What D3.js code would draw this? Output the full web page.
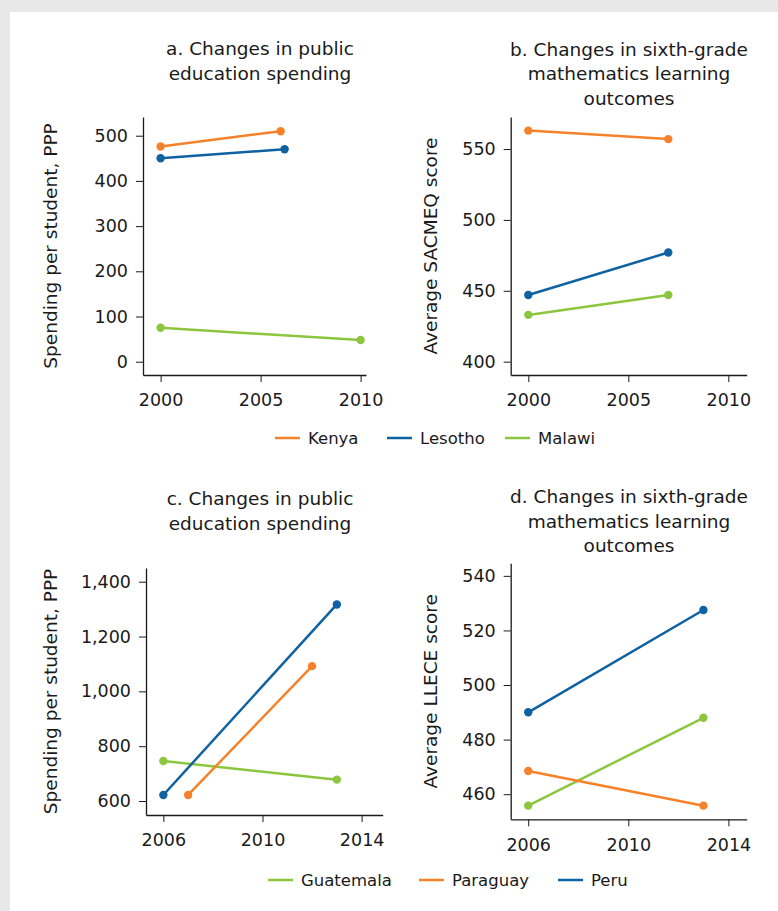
<!DOCTYPE html>
<html><head><meta charset="utf-8">
<script src="https://cdn.jsdelivr.net/npm/d3@7"></script>
<style>
html,body{margin:0;padding:0;background:#e8e8e8;}
svg{display:block;}
text{font-family:"DejaVu Sans",sans-serif;fill:#1a1a1a;}
</style></head>
<body>
<script>
// ---- data ----
const groupA = ["Kenya","Lesotho","Malawi"];
const spendingAfrica = {
  Kenya:   [[2000,476],[2006,510]],
  Lesotho: [[2000,450],[2006.2,470]],
  Malawi:  [[2000,75],[2010,48]]
};
const scoresSACMEQ = {
  Kenya:   [[2000,563],[2007,557]],
  Lesotho: [[2000,447],[2007,477]],
  Malawi:  [[2000,433],[2007,447]]
};
const groupB = ["Guatemala","Paraguay","Peru"];
const spendingLatAm = {
  Guatemala: [[2006,746],[2013,678]],
  Paraguay:  [[2007,622],[2012,1092]],
  Peru:      [[2006,622],[2013,1317]]
};
const scoresLLECE = {
  Guatemala: [[2006,455.8],[2013,488]],
  Paraguay:  [[2006,468.5],[2013,455.8]],
  Peru:      [[2006,490],[2013,527.5]]
};
const ticksA_x = [2000,2005,2010];
const ticksA_y = [0,100,200,300,400,500];
const ticksB_y = [400,450,500,550];
const ticksC_x = [2006,2010,2014];
const ticksC_y = [600,800,1000,1200,1400];
const ticksD_y = [460,480,500,520,540];

const colors = {Kenya:"#f5822a",Lesotho:"#0e62a2",Malawi:"#8cc63f",
                Guatemala:"#8cc63f",Paraguay:"#f5822a",Peru:"#0e62a2"};

const FONT='"DejaVu Sans",sans-serif';
const W=778,H=911;
const svg=d3.select("body").append("svg").attr("width",W).attr("height",H);
svg.append("rect").attr("x",0).attr("y",0).attr("width",W).attr("height",H).attr("fill","#e8e8e8");
svg.append("rect").attr("x",10).attr("y",12).attr("width",W-10).attr("height",H-12).attr("fill","#ffffff");

function panel(o){
  const g=svg.append("g");
  const x=d3.scaleLinear().domain(o.xd).range([o.left,o.right]);
  const y=d3.scaleLinear().domain(o.yd).range([o.bottom,o.top]);
  const xa=g.append("g").attr("transform",`translate(0,${o.bottom})`)
    .call(d3.axisBottom(x).tickValues(o.xt).tickFormat(d3.format("d")).tickSize(7).tickSizeOuter(0).tickPadding(12));
  const ya=g.append("g").attr("transform",`translate(${o.left},0)`)
    .call(d3.axisLeft(y).tickValues(o.yt).tickFormat(o.yf).tickSize(7).tickSizeOuter(0).tickPadding(8));
  [xa,ya].forEach(a=>{
    a.select(".domain").attr("stroke","#1a1a1a").attr("stroke-width",1.3);
    a.selectAll(".tick line").attr("stroke","#1a1a1a").attr("stroke-width",1);
    a.selectAll(".tick text").attr("font-size",17.5).attr("fill","#1a1a1a").style("font-family",FONT);
  });
  g.append("text").attr("transform",`translate(${o.ylx},${(o.top+o.bottom)/2}) rotate(-90)`)
    .attr("text-anchor","middle").attr("font-size",18.5).text(o.ylabel);
  o.title.forEach((t,i)=>g.append("text").attr("x",o.tx).attr("y",o.ty+i*24.5)
    .attr("text-anchor","middle").attr("font-size",18.5).text(t));
  const line=d3.line().x(d=>x(d[0])).y(d=>y(d[1]));
  o.keys.forEach(k=>{
    g.append("path").datum(o.data[k]).attr("d",line).attr("fill","none")
      .attr("stroke",colors[k]).attr("stroke-width",2.5);
    g.selectAll(null).data(o.data[k]).enter().append("circle")
      .attr("cx",d=>x(d[0])).attr("cy",d=>y(d[1])).attr("r",4.2).attr("fill",colors[k]);
  });
}

const fmtInt=d3.format("d"), fmtComma=d3.format(",");

panel({left:143,right:366,top:117,bottom:375,xd:[1999.12,2010.27],yd:[-29.4,541.4],
  xt:ticksA_x,yt:ticksA_y,yf:fmtInt,ylabel:"Spending per student, PPP",ylx:57,
  title:["a. Changes in public","education spending"],tx:260,ty:55,
  keys:groupA,data:spendingAfrica});
panel({left:510.7,right:746.7,top:117,bottom:375,xd:[1999.12,2010.92],yd:[390.6,572.6],
  xt:ticksA_x,yt:ticksB_y,yf:fmtInt,ylabel:"Average SACMEQ score",ylx:437,
  title:["b. Changes in sixth-grade","mathematics learning","outcomes"],tx:629,ty:55.5,
  keys:groupA,data:scoresSACMEQ});
panel({left:146,right:382.7,top:568,bottom:815,xd:[2005.3,2014.85],yd:[549,1450],
  xt:ticksC_x,yt:ticksC_y,yf:fmtComma,ylabel:"Spending per student, PPP",ylx:57,
  title:["c. Changes in public","education spending"],tx:260,ty:505,
  keys:groupB,data:spendingLatAm});
panel({left:510.7,right:746.7,top:563.3,bottom:819.3,xd:[2005.3,2014.73],yd:[450.8,544.6],
  xt:ticksC_x,yt:ticksD_y,yf:fmtInt,ylabel:"Average LLECE score",ylx:437,
  title:["d. Changes in sixth-grade","mathematics learning","outcomes"],tx:629,ty:503,
  keys:groupB,data:scoresLLECE});

function legend(keys,xs,y){
  keys.forEach((k,i)=>{
    svg.append("line").attr("x1",xs[i]).attr("x2",xs[i]+25).attr("y1",y).attr("y2",y)
      .attr("stroke",colors[k]).attr("stroke-width",2.5);
    svg.append("text").attr("x",xs[i]+33).attr("y",y).attr("dy","0.35em")
      .attr("font-size",16.5).text(k);
  });
}
legend(groupA,[275,387,505],438);
legend(groupB,[268,419,558],880);
</script>
</body></html>
